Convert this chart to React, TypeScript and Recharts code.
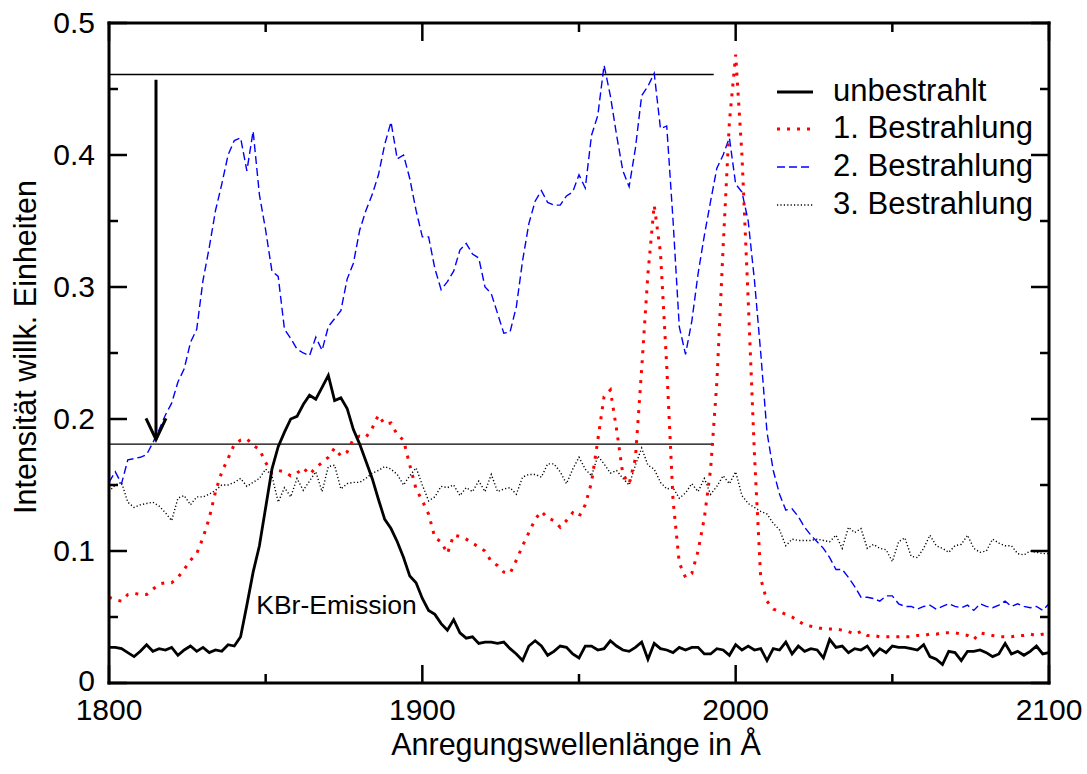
import React from 'react';
import { LineChart, Line, XAxis, YAxis, ReferenceLine, ReferenceDot } from 'recharts';

const FONT = '"Liberation Sans", Arial, Helvetica, sans-serif';

// excitation wavelength grid in Angstrom (2 A steps)
const wavelengths = Array.from({ length: 151 }, (_, i) => 1800 + 2 * i);

const unbestrahlt = [
  0.027, 0.027, 0.026, 0.023, 0.020, 0.024, 0.029, 0.024, 0.026, 0.025,
  0.027, 0.021, 0.025, 0.028, 0.024, 0.027, 0.023, 0.025, 0.024, 0.029,
  0.028, 0.035, 0.059, 0.084, 0.104, 0.133, 0.162, 0.179, 0.190, 0.200,
  0.202, 0.211, 0.218, 0.215, 0.224, 0.233, 0.214, 0.216, 0.208, 0.192,
  0.181, 0.168, 0.155, 0.139, 0.124, 0.117, 0.107, 0.095, 0.081, 0.076,
  0.064, 0.055, 0.052, 0.045, 0.040, 0.048, 0.038, 0.034, 0.035, 0.030,
  0.031, 0.031, 0.030, 0.031, 0.026, 0.022, 0.017, 0.028, 0.032, 0.028,
  0.021, 0.024, 0.028, 0.027, 0.022, 0.019, 0.028, 0.028, 0.025, 0.026,
  0.032, 0.028, 0.025, 0.024, 0.027, 0.031, 0.018, 0.030, 0.026, 0.025,
  0.023, 0.027, 0.025, 0.027, 0.027, 0.022, 0.022, 0.026, 0.025, 0.021,
  0.029, 0.025, 0.028, 0.025, 0.026, 0.017, 0.026, 0.025, 0.031, 0.022,
  0.028, 0.024, 0.026, 0.025, 0.019, 0.033, 0.027, 0.028, 0.023, 0.026,
  0.025, 0.028, 0.021, 0.026, 0.023, 0.028, 0.027, 0.027, 0.026, 0.025,
  0.029, 0.020, 0.018, 0.014, 0.024, 0.023, 0.017, 0.024, 0.024, 0.025,
  0.023, 0.020, 0.022, 0.030, 0.022, 0.024, 0.021, 0.024, 0.028, 0.022,
  0.023,
];

const bestrahlung1 = [
  0.065, 0.063, 0.062, 0.067, 0.068, 0.067, 0.067, 0.071, 0.075, 0.076,
  0.076, 0.080, 0.086, 0.093, 0.098, 0.110, 0.125, 0.145, 0.160, 0.170,
  0.181, 0.184, 0.185, 0.180, 0.177, 0.167, 0.159, 0.161, 0.160, 0.157,
  0.159, 0.163, 0.158, 0.163, 0.167, 0.171, 0.178, 0.172, 0.175, 0.185,
  0.187, 0.186, 0.193, 0.203, 0.196, 0.197, 0.188, 0.184, 0.165, 0.147,
  0.138, 0.128, 0.110, 0.107, 0.098, 0.112, 0.111, 0.109, 0.106, 0.103,
  0.100, 0.092, 0.089, 0.084, 0.083, 0.093, 0.104, 0.114, 0.124, 0.130,
  0.125, 0.123, 0.118, 0.123, 0.129, 0.126, 0.135, 0.152, 0.184, 0.217,
  0.222, 0.192, 0.158, 0.151, 0.170, 0.238, 0.310, 0.362, 0.326, 0.240,
  0.139, 0.091, 0.080, 0.083, 0.100, 0.125, 0.162, 0.228, 0.330, 0.425,
  0.476, 0.400, 0.290, 0.173, 0.079, 0.062, 0.056, 0.054, 0.052, 0.050,
  0.047, 0.044, 0.043, 0.042, 0.041, 0.041, 0.041, 0.040, 0.039, 0.037,
  0.039, 0.036, 0.036, 0.035, 0.035, 0.035, 0.035, 0.035, 0.035, 0.036,
  0.036, 0.037, 0.037, 0.038, 0.038, 0.038, 0.037, 0.036, 0.033, 0.038,
  0.037, 0.036, 0.035, 0.035, 0.035, 0.036, 0.036, 0.037, 0.036, 0.037,
  0.037,
];

const bestrahlung2 = [
  0.152, 0.160, 0.151, 0.169, 0.170, 0.171, 0.173, 0.182, 0.192, 0.203,
  0.212, 0.228, 0.238, 0.258, 0.268, 0.305, 0.330, 0.358, 0.378, 0.400,
  0.411, 0.413, 0.388, 0.418, 0.370, 0.343, 0.312, 0.308, 0.268, 0.261,
  0.253, 0.250, 0.248, 0.262, 0.252, 0.270, 0.276, 0.282, 0.306, 0.318,
  0.343, 0.358, 0.370, 0.385, 0.408, 0.425, 0.397, 0.400, 0.382, 0.358,
  0.338, 0.338, 0.314, 0.298, 0.304, 0.312, 0.328, 0.333, 0.325, 0.322,
  0.300, 0.295, 0.280, 0.265, 0.266, 0.285, 0.320, 0.348, 0.365, 0.373,
  0.364, 0.362, 0.362, 0.369, 0.372, 0.385, 0.375, 0.415, 0.430, 0.468,
  0.445, 0.415, 0.388, 0.376, 0.405, 0.445, 0.452, 0.462, 0.420, 0.422,
  0.351, 0.270, 0.249, 0.274, 0.310, 0.339, 0.365, 0.390, 0.400, 0.413,
  0.378, 0.372, 0.350, 0.305, 0.250, 0.190, 0.161, 0.143, 0.131, 0.132,
  0.126, 0.118, 0.112, 0.107, 0.102, 0.095, 0.086, 0.086, 0.080, 0.073,
  0.065, 0.065, 0.064, 0.062, 0.066, 0.066, 0.060, 0.058, 0.058, 0.056,
  0.058, 0.059, 0.056, 0.058, 0.060, 0.058, 0.057, 0.059, 0.055, 0.060,
  0.058, 0.057, 0.059, 0.062, 0.058, 0.060, 0.058, 0.057, 0.058, 0.055,
  0.060,
];

const bestrahlung3 = [
  0.145, 0.150, 0.152, 0.137, 0.133, 0.135, 0.136, 0.137, 0.134, 0.129,
  0.123, 0.140, 0.142, 0.135, 0.141, 0.141, 0.143, 0.146, 0.150, 0.150,
  0.152, 0.155, 0.149, 0.152, 0.155, 0.162, 0.157, 0.137, 0.148, 0.141,
  0.155, 0.146, 0.153, 0.160, 0.145, 0.164, 0.165, 0.147, 0.151, 0.152,
  0.152, 0.155, 0.159, 0.161, 0.164, 0.162, 0.158, 0.150, 0.157, 0.163,
  0.150, 0.138, 0.141, 0.149, 0.148, 0.150, 0.142, 0.148, 0.145, 0.153,
  0.145, 0.158, 0.145, 0.147, 0.148, 0.143, 0.156, 0.158, 0.158, 0.156,
  0.166, 0.166, 0.160, 0.151, 0.162, 0.171, 0.162, 0.157, 0.172, 0.166,
  0.159, 0.161, 0.155, 0.150, 0.165, 0.178, 0.165, 0.162, 0.152, 0.147,
  0.148, 0.140, 0.144, 0.151, 0.145, 0.155, 0.143, 0.149, 0.157, 0.151,
  0.160, 0.142, 0.136, 0.133, 0.130, 0.128, 0.121, 0.116, 0.104, 0.109,
  0.108, 0.108, 0.108, 0.109, 0.108, 0.107, 0.112, 0.102, 0.118, 0.114,
  0.117, 0.102, 0.105, 0.102, 0.101, 0.092, 0.107, 0.110, 0.096, 0.095,
  0.102, 0.112, 0.104, 0.102, 0.099, 0.104, 0.105, 0.112, 0.102, 0.099,
  0.100, 0.109, 0.106, 0.104, 0.104, 0.098, 0.097, 0.100, 0.099, 0.098,
  0.098,
];

const xTicks = [1800, 1850, 1900, 1950, 2000, 2050, 2100];
const yTicks = [0, 0.05, 0.1, 0.15, 0.2, 0.25, 0.3, 0.35, 0.4, 0.45, 0.5];

// horizontal guide lines and the arrow marking the shift
const guideLevels = [0.461, 0.181];
const guideEnd = 1993;
const arrowX = 1815;
const arrowTop = 0.457;
const arrowTip = 0.1845;
const kbrNote = { x: 1847, y: 0.052, text: 'KBr-Emission' };

const series = [
  { key: 'unb', name: 'unbestrahlt', stroke: '#000000', width: 2.8, dash: undefined },
  { key: 'b1', name: '1. Bestrahlung', stroke: '#ff0000', width: 3, dash: '3 7' },
  { key: 'b2', name: '2. Bestrahlung', stroke: '#0000ff', width: 1.4, dash: '8 4' },
  { key: 'b3', name: '3. Bestrahlung', stroke: '#000000', width: 1.4, dash: '1.2 2.2' },
];

const data = wavelengths.map((x, i) => ({
  x,
  unb: unbestrahlt[i],
  b1: bestrahlung1[i],
  b2: bestrahlung2[i],
  b3: bestrahlung3[i],
}));

const isMajorY = (v: number) => Math.abs(v * 10 - Math.round(v * 10)) < 1e-6;

function LeftTick({ x, y, payload }: any) {
  const v = payload.value;
  const major = isMajorY(v);
  return (
    <g>
      <line x1={x} y1={y} x2={x + (major ? 18 : 9)} y2={y} stroke="#000" strokeWidth={2.5} />
      {major && (
        <text x={x - 14} y={y + (v === 0 ? 8 : 10)} textAnchor="end" fontSize={30} fontFamily={FONT} fill="#000">
          {v === 0 ? '0' : v.toFixed(1)}
        </text>
      )}
    </g>
  );
}

function RightTick({ x, y, payload }: any) {
  const major = isMajorY(payload.value);
  return <line x1={x} y1={y} x2={x - (major ? 18 : 9)} y2={y} stroke="#000" strokeWidth={2.5} />;
}

function BottomTick({ x, y, payload }: any) {
  const v = payload.value;
  const major = v % 100 === 0;
  return (
    <g>
      <line x1={x} y1={y} x2={x} y2={y - (major ? 18 : 9)} stroke="#000" strokeWidth={2.5} />
      {major && (
        <text x={x} y={y + 37} textAnchor="middle" fontSize={30} fontFamily={FONT} fill="#000">
          {v}
        </text>
      )}
    </g>
  );
}

function TopTick({ x, y, payload }: any) {
  const major = payload.value % 100 === 0;
  return <line x1={x} y1={y} x2={x} y2={y + (major ? 18 : 9)} stroke="#000" strokeWidth={2.5} />;
}

function XTitle(props: any) {
  const vb = props.viewBox || { x: 109, y: 683, width: 940, height: 91 };
  return (
    <text x={vb.x + vb.width / 2 - 3} y={vb.y + 72} textAnchor="middle" fontSize={30.5} fontFamily={FONT} fill="#000">
      Anregungswellenlänge in Å
    </text>
  );
}

function YTitle(props: any) {
  const vb = props.viewBox || { x: 0, y: 23, width: 109, height: 660 };
  const cx = 36;
  const cy = vb.y + vb.height / 2 - 6;
  return (
    <text x={cx} y={cy} transform={`rotate(-90, ${cx}, ${cy})`} textAnchor="middle" fontSize={30.5} fontFamily={FONT} fill="#000">
      Intensität willk. Einheiten
    </text>
  );
}

function LegendOverlay() {
  const baselines = [101, 138, 176, 214];
  return (
    <svg width={1087} height={774} style={{ position: 'absolute', left: 0, top: 0, pointerEvents: 'none' }}>
      {series.map((s, i) => (
        <g key={s.key}>
          <line
            x1={777}
            x2={813}
            y1={baselines[i] - 9}
            y2={baselines[i] - 9}
            stroke={s.stroke}
            strokeWidth={s.width}
            strokeDasharray={s.dash}
          />
          <text x={833} y={baselines[i]} fontSize={31} fontFamily={FONT} fill="#000">
            {s.name}
          </text>
        </g>
      ))}
    </svg>
  );
}

export default function App() {
  const axisLine = { stroke: '#000', strokeWidth: 3, strokeLinecap: 'square' as const };
  return (
    <div style={{ position: 'absolute', left: 0, top: 0, width: 1087, height: 774, background: '#fff' }}>
      <LineChart width={1087} height={774} data={data} margin={{ top: 0, right: 0, bottom: 0, left: 0 }}>
        <XAxis
          xAxisId={0}
          dataKey="x"
          type="number"
          domain={[1800, 2100]}
          allowDataOverflow
          ticks={xTicks}
          interval={0}
          height={91}
          tickSize={0}
          tickMargin={0}
          tickLine={false}
          axisLine={axisLine}
          tick={<BottomTick />}
          label={XTitle}
        />
        <XAxis
          xAxisId="top"
          orientation="top"
          dataKey="x"
          type="number"
          domain={[1800, 2100]}
          allowDataOverflow
          ticks={xTicks}
          interval={0}
          height={23}
          tickSize={0}
          tickMargin={0}
          tickLine={false}
          axisLine={axisLine}
          tick={<TopTick />}
        />
        <YAxis
          yAxisId={0}
          type="number"
          domain={[0, 0.5]}
          allowDataOverflow
          ticks={yTicks}
          interval={0}
          width={109}
          tickSize={0}
          tickMargin={0}
          tickLine={false}
          axisLine={axisLine}
          tick={<LeftTick />}
          label={YTitle}
        />
        <YAxis
          yAxisId="right"
          orientation="right"
          type="number"
          domain={[0, 0.5]}
          allowDataOverflow
          ticks={yTicks}
          interval={0}
          width={38}
          tickSize={0}
          tickMargin={0}
          tickLine={false}
          axisLine={axisLine}
          tick={<RightTick />}
        />

        {guideLevels.map((lvl) => (
          <ReferenceLine
            key={lvl}
            segment={[{ x: 1800, y: lvl }, { x: guideEnd, y: lvl }]}
            stroke="#000"
            strokeWidth={1.3}
          />
        ))}

        {[...series].reverse().map((s) => (
          <Line
            key={s.key}
            dataKey={s.key}
            name={s.name}
            type="linear"
            stroke={s.stroke}
            strokeWidth={s.width}
            strokeDasharray={s.dash}
            dot={false}
            activeDot={false}
            isAnimationActive={false}
          />
        ))}

        <ReferenceLine
          segment={[{ x: arrowX, y: arrowTop }, { x: arrowX, y: arrowTip }]}
          stroke="#000"
          strokeWidth={3}
        />
        <ReferenceDot
          x={arrowX}
          y={arrowTip}
          r={0}
          shape={(p: any) => (
            <polyline
              points={`${p.cx - 10},${p.cy - 21} ${p.cx},${p.cy} ${p.cx + 10},${p.cy - 21}`}
              fill="none"
              stroke="#000"
              strokeWidth={3}
            />
          )}
        />
        <ReferenceDot
          x={kbrNote.x}
          y={kbrNote.y}
          r={0}
          shape={(p: any) => (
            <text x={p.cx} y={p.cy} fontSize={26.5} fontFamily={FONT} fill="#000">
              {kbrNote.text}
            </text>
          )}
        />
      </LineChart>
      <LegendOverlay />
    </div>
  );
}
